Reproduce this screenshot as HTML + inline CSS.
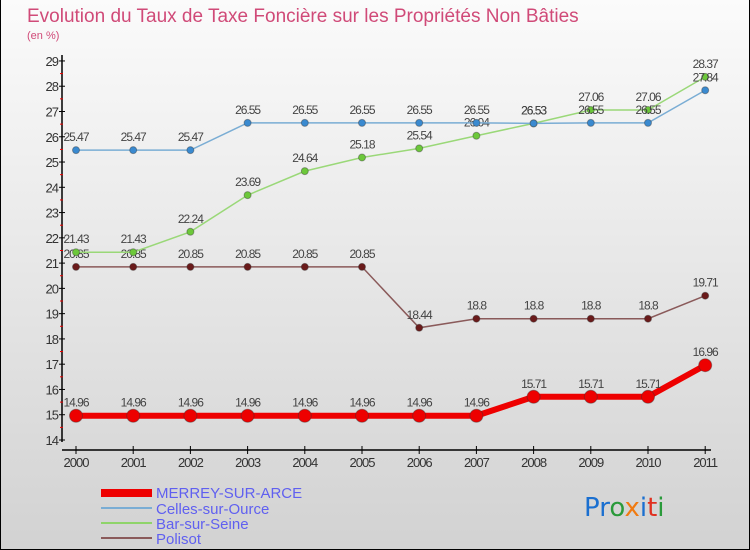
<!DOCTYPE html>
<html><head><meta charset="utf-8"><style>
body{margin:0;}
#wrap{width:750px;height:550px;position:relative;background:linear-gradient(#fbfbfb,#d2d2d2);font-family:"Liberation Sans",sans-serif;overflow:hidden;box-sizing:border-box;border:1px solid #000;border-top:none;}
</style></head><body>
<div id="wrap">
<svg id="svg" width="750" height="550">
<text x="26" y="22" font-size="19" fill="#d04a78">Evolution du Taux de Taxe Foncière sur les Propriétés Non Bâties</text>
<text x="26" y="39" font-size="11" fill="#d04a78">(en %)</text>
<line x1="61" y1="55" x2="61" y2="442" stroke="#000" stroke-width="1.5"/>
<line x1="61" y1="450" x2="710" y2="450" stroke="#000" stroke-width="1.5"/>
<g id="axes"></g><g id="series"></g>
<g>
<rect x="100" y="489" width="51" height="8" fill="#e00"/>
<line x1="100" y1="508" x2="151" y2="508" stroke="#7aadd4" stroke-width="2"/>
<line x1="100" y1="523" x2="151" y2="523" stroke="#8fd46a" stroke-width="2"/>
<line x1="100" y1="538" x2="151" y2="538" stroke="#8a5a5a" stroke-width="2"/>
<g font-size="15" fill="#6060f0">
<text x="155" y="498">MERREY-SUR-ARCE</text>
<text x="155" y="514">Celles-sur-Ource</text>
<text x="155" y="529">Bar-sur-Seine</text>
<text x="155" y="544">Polisot</text>
</g></g>
<text x="583" y="516" font-size="26" font-family="'DejaVu Sans',sans-serif"><tspan fill="#1a6fd0">Pr</tspan><tspan fill="#2a9a3a">o</tspan><tspan fill="#f07a10">x</tspan><tspan fill="#1a6fd0">i</tspan><tspan fill="#e03020">t</tspan><tspan fill="#2a9a3a">i</tspan></text>
</svg></div>
<script>
const years=[2000,2001,2002,2003,2004,2005,2006,2007,2008,2009,2010,2011];
const merrey=[14.96,14.96,14.96,14.96,14.96,14.96,14.96,14.96,15.71,15.71,15.71,16.96];
const celles=[25.47,25.47,25.47,26.55,26.55,26.55,26.55,26.55,26.53,26.55,26.55,27.84];
const barSeine=[21.43,21.43,22.24,23.69,24.64,25.18,25.54,26.04,26.53,27.06,27.06,28.37];
const polisot=[20.85,20.85,20.85,20.85,20.85,20.85,18.44,18.8,18.8,18.8,18.8,19.71];
const yTicks=[14,15,16,17,18,19,20,21,22,23,24,25,26,27,28,29];
const NS="http://www.w3.org/2000/svg";
function xs(i){return 75+i*57.2;}
function ys(v){return 440-(v-14)*25.27;}
function mk(t,a,p){const e=document.createElementNS(NS,t);for(const k in a)e.setAttribute(k,a[k]);p.appendChild(e);return e;}
const ax=document.getElementById('axes');
yTicks.forEach((v,i)=>{
 const t=mk('line',{x1:58,x2:64,y1:ys(v),y2:ys(v),stroke:'#000'},ax);
 
 
 const l=mk('text',{x:57,y:ys(v)+5,'font-size':13,'text-anchor':'end',fill:'#333','letter-spacing':'-1'},ax);
 l.textContent=v;
 
 
 if(i<yTicks.length-1){const m=mk('line',{x1:59,x2:62,y1:ys(v+0.5),y2:ys(v+0.5),stroke:'#e00'},ax);
 
 }
});
years.forEach((y,i)=>{
 const t=mk('line',{x1:xs(i),x2:xs(i),y1:446,y2:454,stroke:'#000'},ax);
 
 
 const l=mk('text',{x:xs(i),y:467,'font-size':13,'text-anchor':'middle',fill:'#333','letter-spacing':'-1'},ax);
 l.textContent=y;
 
 
});
const sg=document.getElementById('series');
function series(name,vals,color,dot,w,r){
 const g=mk('g',{},sg);
 
 
 const pl=mk('polyline',{points:vals.map((v,i)=>xs(i)+','+ys(v)).join(' '),fill:'none',stroke:color,'stroke-width':w},g);
 
 
 vals.forEach((v,i)=>{
  const c=mk('circle',{cx:xs(i),cy:ys(v),r:r,fill:dot,stroke:'#333','stroke-opacity':0.4},g);
  
  
  const t=mk('text',{x:xs(i),y:ys(v)-9,'font-size':12,'text-anchor':'middle',fill:'#444','letter-spacing':'-1'},g);
  t.textContent=v;
  
  
 });
}
series('polisot',polisot,'#8a5a5a','#6a1a1a',1.5,3.5);
series('bar-sur-seine',barSeine,'#9ad878','#6cc83a',1.5,3.5);
series('celles-sur-ource',celles,'#7aadd4','#3a8ad0',1.5,3.5);
series('merrey-sur-arce',merrey,'#ee0000','#ee0000',6,6.5);
</script>
</body></html>
